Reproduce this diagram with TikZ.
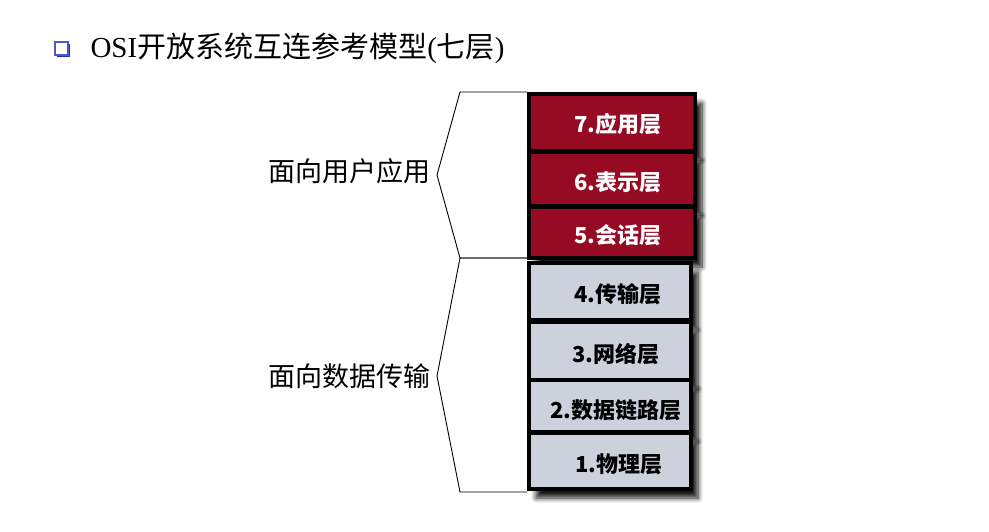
\documentclass[tikz,border=0pt]{standalone}
\usepackage{fontspec}
\setmainfont{Liberation Serif}
\newfontfamily\cjk{Noto Sans CJK SC}
\usetikzlibrary{shadows.blur}

\definecolor{layerred}{RGB}{150,10,35}
\definecolor{layergray}{RGB}{205,209,220}
\definecolor{bulletblue}{RGB}{51,51,204}

\tikzset{
	layer/.style={draw=black, line width=4pt, inner sep=0pt,
		blur shadow={shadow xshift=7pt, shadow yshift=-9pt, shadow blur radius=5pt, shadow blur steps=8, shadow opacity=90}},
	upper/.style={layer, fill=layerred, minimum width=166pt},
	lower/.style={layer, fill=layergray, minimum width=162pt},
	lbl/.style={font=\cjk\bfseries\fontsize{22}{22}\selectfont},
	side/.style={font=\cjk\fontsize{27}{27}\selectfont, anchor=east},
}

\begin{document}
\begin{tikzpicture}[x=1pt, y=-1pt]
		\useasboundingbox (0,0) rectangle (989,532);

		% title
		\fill[bulletblue!85!black] (56.5,44) rectangle (70,57.5);
		\filldraw[fill=white, draw=bulletblue!85, line width=2pt] (55,42.5) rectangle (67.5,55);
		\node[anchor=west, font=\fontsize{29}{29}\selectfont] (title) at (87,48) {OSI{\cjk 开放系统互连参考模型}({\cjk 七层})};

		% brackets
		\draw[line width=0.9pt] (527,92) -- (460,92) -- (437,175) -- (460,258) -- (527,258);
		\draw[line width=0.9pt] (527,258) -- (460,258) -- (437,376) -- (460,492) -- (527,492);
		\node[side] (user) at (434,171) {面向用户应用};
		\node[side] (data) at (434,376) {面向数据传输};

		% layers
		\node[upper, minimum height=57pt] (L7) at (612,122.5) {};
		\node[upper, minimum height=54pt] (L6) at (612,179) {};
		\node[upper, minimum height=51pt] (L5) at (612,232.5) {};
		\node[lower, minimum height=57pt] (L4) at (610,291.5) {};
		\node[lower, minimum height=58pt] (L3) at (610,351) {};
		\node[lower, minimum height=52pt] (L2) at (610,406) {};
		\node[lower, minimum height=56pt] (L1) at (610,461) {};

		\node[lbl, text=white] (T7) at ([xshift=6pt, yshift=-2pt]L7.center) {7.应用层};
		\node[lbl, text=white] (T6) at ([xshift=6pt, yshift=-3pt]L6.center) {6.表示层};
		\node[lbl, text=white] (T5) at ([xshift=6pt, yshift=-3pt]L5.center) {5.会话层};
		\node[lbl] (T4) at ([xshift=8pt, yshift=-3pt]L4.center) {4.传输层};
		\node[lbl] (T3) at ([xshift=6pt, yshift=-3pt]L3.center) {3.网络层};
		\node[lbl] (T2) at ([xshift=6pt, yshift=-4pt]L2.center) {2.数据链路层};
		\node[lbl] (T1) at ([xshift=9pt, yshift=-3pt]L1.center) {1.物理层};
	\end{tikzpicture}
\end{document}
